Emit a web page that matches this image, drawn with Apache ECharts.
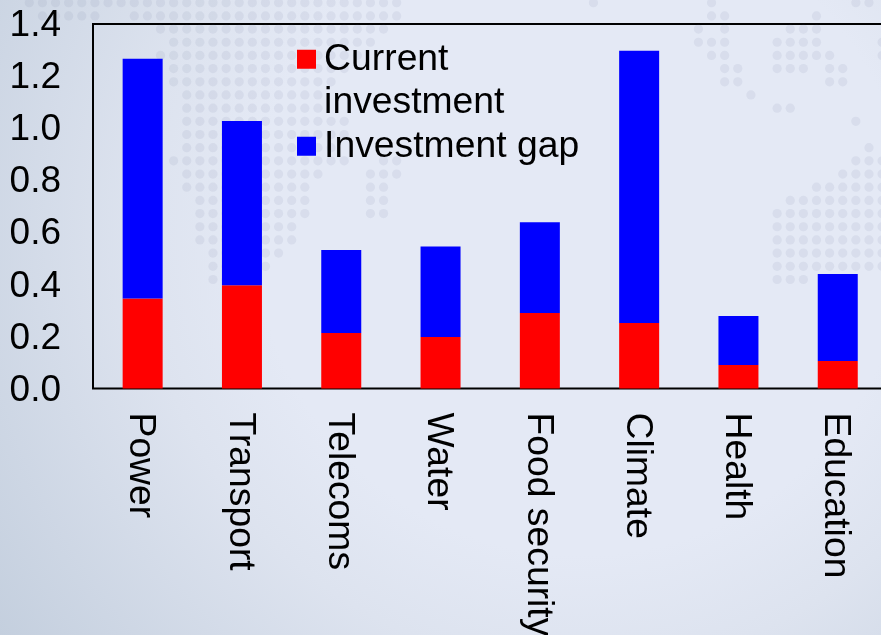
<!DOCTYPE html>
<html><head><meta charset="utf-8">
<style>
html,body{margin:0;padding:0;width:881px;height:635px;overflow:hidden;
background:radial-gradient(circle at 66% 36%,#e4e9f5 0,#e4e9f5 46%,#dde3ef 62%,#c4cfde 100%);}
#c{width:881px;height:635px;}
</style>
<script src="https://cdn.jsdelivr.net/npm/echarts@6/dist/echarts.min.js"></script>
</head><body><div id="c"></div>
<script>
const categories=['Power','Transport','Telecoms','Water','Food security','Climate','Health','Education'];
const currentInvestment=[0.346,0.397,0.213,0.198,0.290,0.252,0.090,0.106];
const investmentGap=[0.921,0.630,0.319,0.347,0.349,1.045,0.188,0.334];
const yTicks={min:0,max:1.4,interval:0.2};

// decorative dotted world map in the slide background: [row, firstCol, lastCol]
const mapRuns=[[0,0,28],[0,43,43],[0,52,52],[0,63,64],[1,1,5],[1,8,28],[1,52,53],[1,60,60],
[2,10,27],[2,51,51],[2,53,53],[2,58,60],[3,11,26],[3,51,53],[3,57,60],[3,65,65],
[4,10,25],[4,52,53],[4,57,61],[4,65,65],[5,11,24],[5,53,54],[5,57,59],[5,61,62],
[6,11,23],[6,53,54],[6,61,62],[7,12,22],[7,55,55],[8,12,22],[8,57,58],[9,12,24],[9,63,63],
[10,12,24],[11,12,23],[11,64,64],[12,11,24],[12,27,28],[12,63,65],[13,12,22],[13,26,28],[13,62,65],
[14,12,21],[14,26,27],[14,60,65],[15,13,21],[15,26,27],[15,58,65],[16,13,21],[16,26,27],[16,57,65],
[17,13,20],[17,57,65],[18,13,20],[18,57,65],[19,14,19],[19,57,65],[20,14,18],[20,57,65],[21,14,15],[21,57,59]];
const dots=[];
mapRuns.forEach(([r,a,b])=>{for(let c=a;c<=b;c++){dots.push({type:'circle',silent:true,
  shape:{cx:29.3+13.12*c,cy:2.7+13.18*r,r:4.6},style:{fill:'rgba(120,130,160,0.11)'}});}});

const FONT='"Liberation Sans",Arial,sans-serif';
const chart=echarts.init(document.getElementById('c'),null,{renderer:'canvas'});
chart.setOption({
  animation:false,
  backgroundColor:'transparent',
  graphic:[{type:'group',z:-10,silent:true,children:dots}],
  grid:{left:93,width:794.4,top:24,height:364.5,outerBoundsMode:'none',show:true,borderColor:'#000',borderWidth:2,backgroundColor:'transparent'},
  legend:{
    left:297,top:-6,orient:'vertical',itemWidth:19,itemHeight:19,itemGap:0,selectedMode:false,padding:0,
    textStyle:{fontFamily:FONT,fontSize:37.3,color:'#000',lineHeight:43.5},
    formatter:n=>n==='Current investment'?'\u00a0\n\u200aCurrent\n\u200ainvestment':'\u200a'+n,
    data:[{name:'Current investment',icon:'rect'},{name:'Investment gap',icon:'rect'}]
  },
  xAxis:{type:'category',data:categories,axisTick:{show:false},
    axisLabel:{rotate:-90,margin:24,interval:0,verticalAlign:'top',lineHeight:4,fontFamily:FONT,fontSize:37.3,color:'#000'},
    axisLine:{show:false},splitLine:{show:false}},
  yAxis:{type:'value',min:yTicks.min,max:yTicks.max,interval:yTicks.interval,
    axisLine:{show:false},axisTick:{show:false},splitLine:{show:false},
    axisLabel:{margin:32,verticalAlign:'top',lineHeight:4,fontFamily:FONT,fontSize:37,color:'#000',formatter:v=>v.toFixed(1)}},
  series:[
    {name:'Current investment',type:'bar',stack:'t',barWidth:40,itemStyle:{color:'#ff0000'},data:currentInvestment},
    {name:'Investment gap',type:'bar',stack:'t',barWidth:40,itemStyle:{color:'#0000ff'},data:investmentGap}
  ]
});
</script></body></html>
